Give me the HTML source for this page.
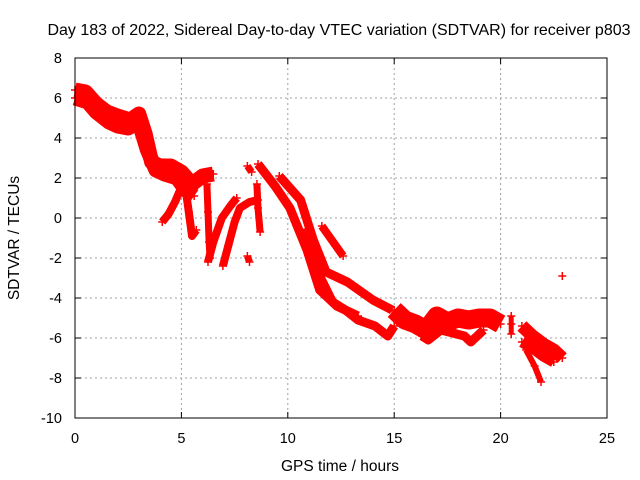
<!DOCTYPE html>
<html><head><meta charset="utf-8"><style>
body{margin:0;background:#fff}
svg{display:block;font-family:"Liberation Sans",sans-serif}
</style></head><body>
<svg id="chart" width="640" height="480">
<text x="339" y="35" text-anchor="middle" font-size="16">Day 183 of 2022, Sidereal Day-to-day VTEC variation (SDTVAR) for receiver p803</text>
<text x="340" y="471" text-anchor="middle" font-size="15.5">GPS time / hours</text>
<text transform="translate(19,238) rotate(-90)" text-anchor="middle" font-size="15.5">SDTVAR / TECUs</text>
<g id="grid"></g>
<g id="marks"></g>
<rect x="75" y="58" width="532" height="360" fill="none" stroke="#000" stroke-width="1"/>
</svg>
<script>
const xTicks=[0,5,10,15,20,25];
const yTicks=[-10,-8,-6,-4,-2,0,2,4,6,8];
const trackA1=[[0,6.4],[0.5,6.3],[1,5.7],[1.5,5.3],[2,5.1],[2.6,4.9],[3,5.2],[3.3,4.2],[3.6,2.8],[4,2.6],[4.5,2.6],[5,2.3],[5.5,1.7],[6,2.1],[6.5,2.2]];
const trackA2=[[0,6.0],[0.6,5.8],[1,5.3],[1.6,4.8],[2,4.6],[2.5,4.5],[3,4.8],[3.4,3.4],[3.8,2.4],[4.2,2.2],[4.8,2.0],[5.2,1.4],[5.6,1.1]];
const trackB=[[4.1,-0.2],[4.4,0.2],[4.7,0.8],[4.9,1.3],[5.1,1.6]];
const trackC=[[5.2,1.4],[5.35,0.3],[5.5,-0.9],[5.7,-0.6]];
const trackD=[[6.25,-2.2],[6.5,-1.2],[6.9,0],[7.3,0.6],[7.6,1.0]];
const trackE=[[6.95,-2.4],[7.2,-1.4],[7.5,-0.2],[7.75,0.5],[8.2,0.8],[8.6,0.9]];
const trackF=[[6.2,1.7],[6.25,0.3],[6.3,-1.2],[6.35,-2.0]];
const trackG=[[8.55,1.7],[8.6,0.5],[8.7,-0.7]];
const trackH=[[8.1,2.6],[8.3,2.3]];
const trackI=[[8.1,-1.9],[8.2,-2.2]];
const trackL1=[[8.6,2.7],[9.4,1.6],[10.1,0.5],[10.9,-1.6],[11.5,-3.6],[12.3,-4.4],[13.3,-4.9]];
const trackL2=[[9.6,2.1],[10.6,0.9],[11.2,-1.1],[11.8,-2.7],[12.8,-3.2],[14,-4.1],[14.9,-4.6]];
const trackL3=[[11.6,-0.4],[12.6,-1.9]];
const trackL4=[[10.6,-0.6],[11.5,-2.9],[12.1,-4.2],[12.7,-4.6],[13.3,-5.1],[14.1,-5.4],[14.7,-5.9],[15,-5.4]];
const trackM=[[15,-4.6],[15.5,-5.1],[16,-5.3],[16.5,-5.6],[17,-4.9],[17.5,-5.2],[18,-5.0],[18.5,-5.1],[19,-5.0],[19.5,-5.0],[20,-5.3]];
const trackM2=[[16.3,-5.9],[16.6,-6.1],[17.2,-5.6],[18.3,-5.9],[18.6,-6.2],[19.2,-5.6]];
const trackN=[[20.5,-4.9],[20.5,-5.3],[20.5,-5.8]];
const trackP=[[21,-5.4],[21.5,-5.9],[22,-6.3],[22.5,-6.6],[22.9,-7.0]];
const trackP2=[[21,-6.2],[21.5,-6.5],[22,-6.9],[22.5,-7.2]];
const trackQ=[[21.2,-6.6],[21.6,-7.4],[21.9,-8.2]];
const trackR=[[22.9,-2.9]];
const tracks=[[trackA1,15],[trackA2,15],[trackB,8],[trackC,8],[trackD,8],[trackE,8],[trackF,7],[trackG,7],[trackH,7],[trackI,7],[trackL1,9],[trackL2,9],[trackL3,8],[trackL4,9],[trackM,19],[trackM2,9],[trackN,5],[trackP,13],[trackP2,11],[trackQ,6],[trackR,4]];
const X=t=>75+t*532/25, Y=v=>58+(8-v)*20;
const NS='http://www.w3.org/2000/svg';
const grid=document.getElementById('grid'), marks=document.getElementById('marks');
function mk(tag,attrs,parent){const e=document.createElementNS(NS,tag);for(const k in attrs)e.setAttribute(k,attrs[k]);parent.appendChild(e);return e;}
xTicks.forEach(t=>{
  if(t>0&&t<25){const g=mk('line',{x1:X(t),x2:X(t),y1:58,y2:418,stroke:'#a0a0a0','stroke-dasharray':'2,3'},grid);
  
  }
  mk('line',{x1:X(t),x2:X(t),y1:418,y2:412,stroke:'#000'},grid);
  mk('line',{x1:X(t),x2:X(t),y1:58,y2:64,stroke:'#000'},grid);
  const l=mk('text',{x:X(t),y:443,'text-anchor':'middle','font-size':14.5},grid);l.textContent=t;
  
  
});
yTicks.forEach(v=>{
  if(v>-10&&v<8){const g=mk('line',{x1:75,x2:607,y1:Y(v),y2:Y(v),stroke:'#a0a0a0','stroke-dasharray':'2,3'},grid);
  
  }
  mk('line',{x1:75,x2:81,y1:Y(v),y2:Y(v),stroke:'#000'},grid);
  mk('line',{x1:607,x2:601,y1:Y(v),y2:Y(v),stroke:'#000'},grid);
  const l=mk('text',{x:62,y:Y(v)+5,'text-anchor':'end','font-size':14.5},grid);l.textContent=v;
  
  
});
tracks.forEach(([pts,w])=>{
  const d=pts.map((p,i)=>(i?'L':'M')+X(p[0]).toFixed(1)+','+Y(p[1]).toFixed(1)).join(' ');
  if(pts.length>1){const pl=mk('path',{d:d,fill:'none',stroke:'#f00','stroke-width':w,'stroke-linejoin':'round','stroke-linecap':'butt'},marks);
  
  }
  pts.forEach(p=>{const x=X(p[0]),y=Y(p[1]);
    const m=mk('path',{d:`M${x-4},${y}H${x+4}M${x},${y-4}V${y+4}`,stroke:'#f00','stroke-width':1.5},marks);
    
    
  });
});
</script>
</body></html>
